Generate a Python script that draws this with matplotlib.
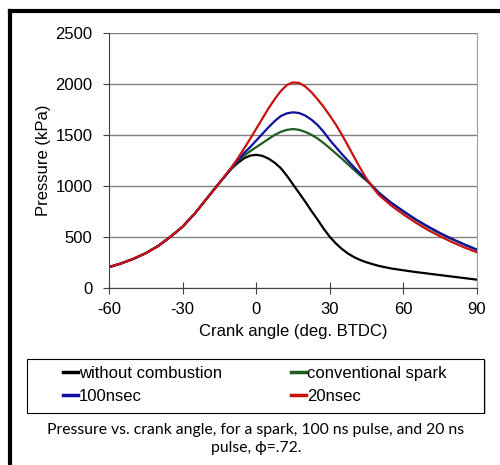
import numpy as np
import matplotlib
matplotlib.use("Agg")
import matplotlib.pyplot as plt
from matplotlib.lines import Line2D
from matplotlib.patches import Rectangle

plt.rcParams['font.family'] = ['Liberation Sans', 'DejaVu Sans']
plt.rcParams['axes.unicode_minus'] = False

# crank angle (deg. BTDC)
angle = [-60, -55, -50, -45, -40, -35, -30, -25, -20, -15, -10, -7.5, -5, -2.5, 0, 2.5, 5, 7.5,
         10, 12.5, 15, 17.5, 20, 22.5, 25, 27.5, 30, 32.5, 35, 37.5, 40, 42.5, 45, 47.5,
         50, 55, 60, 65, 70, 75, 80, 85, 90]

# pressure (kPa)
no_comb = [203, 240, 285, 340, 410, 500, 600, 730, 880, 1030, 1170, 1225, 1270, 1297, 1305, 1295, 1268, 1228,
           1175, 1100, 1015, 930, 845, 755, 670, 580, 500, 435, 380, 335, 300, 272, 250, 232,
           215, 190, 172, 155, 140, 125, 110, 95, 80]
spark = [203, 240, 285, 340, 410, 500, 600, 730, 880, 1030, 1175, 1240, 1295, 1340, 1380, 1420, 1460, 1500,
         1530, 1550, 1558, 1550, 1530, 1502, 1465, 1420, 1370, 1318, 1265, 1210, 1155, 1100, 1050, 995,
         935, 835, 748, 668, 597, 532, 475, 425, 375]
ns100 = [203, 240, 285, 340, 410, 500, 600, 730, 880, 1030, 1180, 1250, 1320, 1380, 1445, 1510, 1575, 1635,
         1685, 1712, 1722, 1715, 1690, 1650, 1598, 1530, 1450, 1380, 1310, 1245, 1180, 1120, 1060, 995,
         930, 835, 752, 672, 602, 537, 478, 423, 372]
ns20 = [203, 240, 285, 340, 410, 500, 600, 730, 880, 1030, 1185, 1270, 1365, 1460, 1560, 1660, 1760, 1850,
        1930, 1990, 2015, 2010, 1975, 1920, 1850, 1775, 1690, 1600, 1500, 1390, 1280, 1170, 1070, 985,
        912, 808, 720, 640, 568, 505, 447, 395, 348]

names = ["without combustion", "conventional spark", "100nsec", "20nsec"]
colors = ["#000000", "#1f5c1f", "#1010a0", "#cc1010"]
series = [no_comb, spark, ns100, ns20]

fig = plt.figure(figsize=(5, 4.65), dpi=100)
ax = fig.add_axes([0.218, 0.381, 0.736, 0.548])

lines = []
for s, c, n in zip(series, colors, names):
    l, = ax.plot(angle, s, color=c, lw=1.6, label=n)
    lines.append(l)

ax.set_xlim(-60, 90)
ax.set_ylim(0, 2500)
ax.set_xticks([-60, -30, 0, 30, 60, 90])
ax.set_yticks([0, 500, 1000, 1500, 2000, 2500])
ax.yaxis.grid(True, color="#808080", lw=1)
ax.set_axisbelow(True)
ax.spines['top'].set_visible(False)
ax.spines['right'].set_color("#a0a0a0")
ax.spines['left'].set_color("#404040")
ax.spines['bottom'].set_color("#404040")
ax.tick_params(axis='x', direction='inout', length=8, color="#404040", labelsize=12, pad=6)
ax.tick_params(axis='y', direction='out', length=4, color="#404040", labelsize=12, pad=8)
ax.set_xlabel("Crank angle (deg. BTDC)", fontsize=12, labelpad=5)
ax.set_ylabel("Pressure (kPa)", fontsize=12, labelpad=3)

# legend box with a light shadow
fig.add_artist(Rectangle((0.058, 0.109), 0.914, 0.116, transform=fig.transFigure,
                         facecolor="#c8c8c8", edgecolor="none"))
fig.add_artist(Rectangle((0.054, 0.112), 0.914, 0.116, transform=fig.transFigure,
                         facecolor="white", edgecolor="black", lw=0.8))

order = [0, 2, 1, 3]
leg = fig.legend([lines[i] for i in order], [names[i] for i in order],
                 loc="center left", bbox_to_anchor=(0.125, 0.172), ncol=2, fontsize=12,
                 handlelength=0.95, handletextpad=0.05, columnspacing=4.1,
                 frameon=False, borderpad=0, borderaxespad=0, labelspacing=0.45)
for h in leg.legend_handles:
    h.set_linewidth(2.5)

fig.text(0.512, 0.056, "Pressure vs. crank angle, for a spark, 100 ns pulse, and 20 ns\npulse, \u03d5=.72.",
         ha="center", va="center", fontsize=11.3, family=['Lato', 'DejaVu Sans'],
         linespacing=1.4)

# thick frame on top and left
fig.add_artist(Line2D([0.019, 1.0], [0.976, 0.976], color="black", lw=3,
                      transform=fig.transFigure, solid_capstyle="projecting"))
fig.add_artist(Line2D([0.019, 0.019], [0.976, 0.0], color="black", lw=3,
                      transform=fig.transFigure, solid_capstyle="projecting"))

fig.savefig("out.png", dpi=100)
